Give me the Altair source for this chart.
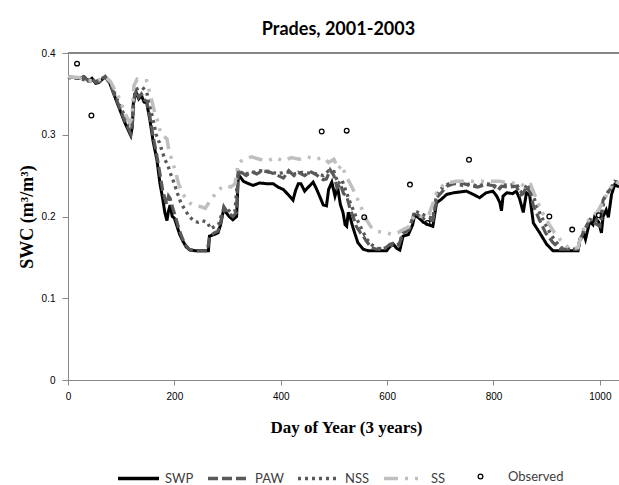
import altair as alt
import pandas as pd

# ---------------- data ----------------
swp_day = [0, 10, 20, 30, 38, 45, 52, 58, 65, 70, 78, 86, 96, 106, 113, 118, 121, 123, 128, 133,
           138, 143, 148, 154, 160, 167, 173, 178, 182, 186, 189, 192, 196, 200, 204, 210, 216, 222,
           229, 240, 255, 264, 266, 275, 282, 287, 293, 297, 303, 310, 317, 320, 323, 330, 340, 348,
           360, 375, 386, 395, 405, 415, 423, 428, 433, 438, 445, 452, 461, 467, 473, 480, 486, 490,
           496, 502, 507, 512, 517, 521, 524, 527, 530, 536, 545, 555, 565, 580, 599, 605, 612, 618,
           624, 630, 640, 648, 652, 660, 668, 677, 686, 693, 700, 712, 725, 737, 749, 762, 774, 786,
           799, 806, 812, 815, 818, 825, 836, 843, 849, 856, 862, 868, 875, 887, 900, 912, 930, 959,
           962, 970, 973, 981, 987, 990, 998, 1003, 1006, 1012, 1016, 1022, 1028, 1036]
swp_val = [0.371, 0.370, 0.369, 0.371, 0.366, 0.369, 0.363, 0.364, 0.368, 0.371, 0.364, 0.350, 0.333,
           0.316, 0.306, 0.299, 0.310, 0.340, 0.352, 0.344, 0.348, 0.340, 0.339, 0.318, 0.292, 0.270,
           0.240, 0.222, 0.205, 0.195, 0.207, 0.214, 0.200, 0.198, 0.190, 0.178, 0.170, 0.163, 0.159,
           0.158, 0.158, 0.158, 0.176, 0.178, 0.180, 0.190, 0.210, 0.205, 0.200, 0.196, 0.200, 0.246,
           0.249, 0.243, 0.240, 0.238, 0.241, 0.240, 0.240, 0.236, 0.233, 0.226, 0.220, 0.232, 0.240,
           0.240, 0.231, 0.236, 0.242, 0.234, 0.225, 0.214, 0.213, 0.233, 0.242, 0.225, 0.236, 0.215,
           0.205, 0.190, 0.188, 0.205, 0.200, 0.186, 0.168, 0.160, 0.158, 0.158, 0.158, 0.163, 0.166,
           0.161, 0.159, 0.176, 0.178, 0.190, 0.202, 0.198, 0.193, 0.190, 0.188, 0.217, 0.220, 0.227,
           0.229, 0.230, 0.231, 0.227, 0.223, 0.229, 0.231, 0.225, 0.217, 0.207, 0.225, 0.229, 0.228,
           0.231, 0.222, 0.205, 0.229, 0.226, 0.192, 0.180, 0.166, 0.158, 0.158, 0.158, 0.172, 0.178,
           0.172, 0.194, 0.190, 0.199, 0.193, 0.180, 0.200, 0.208, 0.199, 0.227, 0.239, 0.236]

paw_day = [0, 10, 20, 30, 38, 45, 52, 60, 70, 78, 86, 96, 106, 113, 118, 121, 123, 128, 133, 138,
           143, 148, 154, 160, 167, 173, 178, 182, 186, 189, 192, 197, 202, 208, 214, 220, 228, 240,
           262, 266, 275, 282, 287, 293, 300, 310, 317, 320, 326, 335, 345, 355, 365, 380, 395, 405,
           415, 425, 433, 445, 455, 465, 473, 480, 486, 493, 500, 506, 512, 518, 524, 530, 536, 542,
           550, 556, 561, 570, 580, 598, 605, 614, 622, 630, 640, 652, 662, 672, 686, 693, 703, 712,
           725, 740, 755, 770, 785, 799, 808, 815, 828, 843, 851, 856, 862, 870, 875, 887, 898, 912,
           925, 959, 965, 972, 981, 990, 1000, 1006, 1015, 1022, 1028, 1036]
paw_val = [0.371, 0.370, 0.369, 0.371, 0.366, 0.369, 0.364, 0.365, 0.371, 0.364, 0.351, 0.335, 0.318,
           0.308, 0.301, 0.312, 0.342, 0.354, 0.346, 0.350, 0.343, 0.341, 0.322, 0.298, 0.275, 0.252,
           0.232, 0.222, 0.215, 0.225, 0.222, 0.210, 0.200, 0.186, 0.175, 0.166, 0.160, 0.158, 0.158,
           0.175, 0.180, 0.182, 0.193, 0.212, 0.205, 0.200, 0.205, 0.258, 0.254, 0.250, 0.255, 0.252,
           0.256, 0.254, 0.250, 0.247, 0.256, 0.250, 0.254, 0.250, 0.255, 0.252, 0.248, 0.245, 0.246,
           0.257, 0.250, 0.235, 0.240, 0.228, 0.225, 0.210, 0.200, 0.188, 0.180, 0.175, 0.170, 0.162,
           0.160, 0.162, 0.166, 0.168, 0.165, 0.180, 0.183, 0.205, 0.200, 0.196, 0.195, 0.223, 0.230,
           0.237, 0.240, 0.241, 0.238, 0.236, 0.239, 0.238, 0.232, 0.237, 0.236, 0.237, 0.226, 0.228,
           0.237, 0.228, 0.213, 0.195, 0.180, 0.168, 0.160, 0.160, 0.175, 0.185, 0.196, 0.192, 0.188,
           0.220, 0.230, 0.235, 0.243, 0.241]

nss_day = [0, 20, 38, 52, 70, 80, 96, 110, 118, 122, 126, 133, 140, 148, 154, 160, 166, 172, 177,
           182, 188, 194, 200, 206, 212, 220, 228, 236, 244, 252, 262, 268, 276, 283, 290, 298, 306,
           314, 320, 330, 345, 360, 380, 395, 410, 425, 440, 455, 470, 480, 490, 500, 508, 515, 522,
           530, 538, 546, 554, 562, 572, 585, 600, 612, 622, 630, 642, 652, 662, 675, 686, 693, 705,
           716, 728, 742, 756, 770, 785, 800, 810, 818, 830, 843, 852, 858, 864, 872, 880, 890, 902,
           914, 926, 940, 959, 966, 975, 984, 995, 1003, 1008, 1018, 1028, 1036]
nss_val = [0.370, 0.369, 0.366, 0.365, 0.371, 0.362, 0.338, 0.318, 0.310, 0.325, 0.355, 0.357, 0.358,
           0.352, 0.335, 0.318, 0.300, 0.290, 0.280, 0.270, 0.262, 0.250, 0.240, 0.228, 0.217, 0.208,
           0.200, 0.195, 0.193, 0.195, 0.193, 0.185, 0.188, 0.190, 0.205, 0.210, 0.205, 0.207, 0.255,
           0.252, 0.253, 0.256, 0.255, 0.252, 0.255, 0.252, 0.254, 0.253, 0.252, 0.250, 0.256, 0.255,
           0.240, 0.245, 0.232, 0.218, 0.205, 0.193, 0.182, 0.172, 0.165, 0.160, 0.162, 0.166, 0.166,
           0.180, 0.185, 0.207, 0.204, 0.200, 0.198, 0.227, 0.236, 0.240, 0.241, 0.238, 0.240, 0.237,
           0.240, 0.239, 0.233, 0.239, 0.238, 0.240, 0.230, 0.233, 0.240, 0.232, 0.215, 0.200, 0.185,
           0.172, 0.162, 0.160, 0.160, 0.178, 0.188, 0.198, 0.195, 0.195, 0.222, 0.232, 0.243, 0.242]

ss_day = [0, 20, 38, 52, 70, 80, 96, 108, 116, 120, 124, 130, 140, 148, 155, 162, 168, 174, 180,
          186, 190, 196, 202, 208, 214, 222, 230, 240, 250, 258, 266, 274, 282, 290, 298, 306, 314,
          320, 330, 345, 360, 375, 390, 405, 420, 435, 450, 465, 480, 490, 500, 508, 515, 522, 530,
          540, 550, 561, 570, 580, 599, 610, 620, 630, 640, 652, 665, 678, 693, 705, 712, 730, 750,
          770, 790, 812, 830, 850, 860, 870, 876, 890, 905, 915, 925, 935, 946, 959, 966, 975, 984,
          995, 1006, 1018, 1028, 1036]
ss_val = [0.371, 0.370, 0.367, 0.365, 0.371, 0.365, 0.345, 0.325, 0.315, 0.320, 0.360, 0.368, 0.366,
          0.366, 0.348, 0.330, 0.318, 0.302, 0.298, 0.295, 0.280, 0.268, 0.255, 0.240, 0.230, 0.221,
          0.216, 0.213, 0.212, 0.210, 0.218, 0.225, 0.232, 0.236, 0.238, 0.236, 0.240, 0.265, 0.270,
          0.273, 0.270, 0.268, 0.272, 0.268, 0.272, 0.270, 0.273, 0.270, 0.272, 0.266, 0.270, 0.258,
          0.263, 0.250, 0.241, 0.228, 0.213, 0.196, 0.187, 0.182, 0.180, 0.178, 0.180, 0.184, 0.187,
          0.202, 0.200, 0.201, 0.229, 0.238, 0.241, 0.243, 0.243, 0.243, 0.243, 0.243, 0.241, 0.241,
          0.236, 0.239, 0.229, 0.207, 0.190, 0.180, 0.172, 0.165, 0.160, 0.162, 0.180, 0.192, 0.200,
          0.205, 0.218, 0.233, 0.243, 0.241]

obs_day = [17, 44, 477, 524, 557, 643, 676, 754, 905, 948, 998]
obs_val = [0.387, 0.3235, 0.304, 0.305, 0.199, 0.239, 0.192, 0.2695, 0.200, 0.184, 0.2015]

series_names = ["SWP", "PAW", "NSS", "SS"]
series_colors = ["#000000", "#595959", "#595959", "#bfbfbf"]
series_dash = [[1, 0], [10, 4], [3, 4], [14, 7, 3, 7, 3, 7]]
series_width = [3, 3.5, 3, 3.5]

x_ticks = [0, 200, 400, 600, 800, 1000]
y_ticks = [0, 0.1, 0.2, 0.3, 0.4]

# ---------------- tables ----------------
rows = []
for name, days, vals in zip(series_names, [swp_day, paw_day, nss_day, ss_day],
                            [swp_val, paw_val, nss_val, ss_val]):
    for d, v in zip(days, vals):
        rows.append({"day": d, "swc": v, "series": name})
lines_df = pd.DataFrame(rows)
obs_df = pd.DataFrame({"day": obs_day, "swc": obs_val, "kind": ["Observed"] * len(obs_day)})

AX = "#868686"

x_scale = alt.Scale(domain=[0, 1036], nice=False, zero=False)
y_scale = alt.Scale(domain=[0, 0.4], nice=False)

x_axis = alt.Axis(values=x_ticks, format="d", grid=False, title="Day of Year (3 years)",
                  titleFont="Liberation Serif", titleFontSize=17, titleFontWeight="bold",
                  titleX=278, titleY=52, titleBaseline="alphabetic", titleAlign="center",
                  tickSize=5, labelPadding=6, labelFlush=False)
y_axis = alt.Axis(values=y_ticks, grid=False, title="SWC (m³/m³)",
                  labelExpr="datum.value == 0 ? '0' : format(datum.value, '.1f')",
                  titleFont="Liberation Serif", titleFontSize=18, titleFontWeight="bold",
                  titleX=-36, titleY=163.5, titleAngle=270, titleBaseline="alphabetic",
                  titleAlign="center", tickSize=6, labelPadding=7)

line_legend = alt.Legend(title=None, orient="none", legendX=48, legendY=403, direction="horizontal",
                         symbolType="stroke", symbolSize=1681, symbolStrokeWidth=3.5,
                         labelOffset=4, columnPadding=7, padding=0, gridAlign="none",
                         labelFont="Lato", labelFontSize=13, labelColor="#404040",
                         labelBaseline="middle")

lines = alt.Chart(lines_df).mark_line(strokeCap="butt", interpolate="linear").encode(
    x=alt.X("day:Q", scale=x_scale, axis=x_axis),
    y=alt.Y("swc:Q", scale=y_scale, axis=y_axis),
    color=alt.Color("series:N", scale=alt.Scale(domain=series_names, range=series_colors),
                    legend=line_legend),
    strokeDash=alt.StrokeDash("series:N", scale=alt.Scale(domain=series_names, range=series_dash),
                              legend=line_legend),
    strokeWidth=alt.StrokeWidth("series:N", scale=alt.Scale(domain=series_names, range=series_width),
                                legend=None),
    order=alt.Order("day:Q"),
)

points = alt.Chart(obs_df).mark_point(filled=False, size=22, strokeWidth=1.3, color="black",
                                      opacity=1).encode(
    x=alt.X("day:Q", scale=x_scale),
    y=alt.Y("swc:Q", scale=y_scale),
    shape=alt.Shape("kind:N", scale=alt.Scale(domain=["Observed"], range=["circle"]),
                    legend=alt.Legend(title=None, orient="none", legendX=406, legendY=417,
                                      symbolSize=22, symbolStrokeWidth=1.3, symbolStrokeColor="black",
                                      symbolFillColor="white", labelOffset=21, padding=0,
                                      labelFont="Lato", labelFontSize=13, labelColor="#404040",
                                      labelBaseline="middle")),
)

top_rule = alt.Chart(obs_df).mark_rule(color=AX, strokeWidth=2).encode(y=alt.datum(0.4))

chart = alt.layer(top_rule, lines, points).properties(
    width=551, height=327,
    title=alt.TitleParams("Prades, 2001-2003", font="Lato", fontSize=18, fontWeight="bold",
                          anchor="middle", frame="group", baseline="alphabetic", offset=18, dx=-5,
                          dy=23, color="#000000"),
    autosize=alt.AutoSizeParams(type="none"),
    padding={"left": 68, "top": 53, "right": 0, "bottom": 105},
).resolve_scale(color="independent", strokeDash="independent", shape="independent").configure_view(
    stroke=None
).configure_axis(
    domainColor=AX, domainWidth=2, tickColor=AX, tickWidth=1.5,
    labelFont="Lato", labelFontSize=14, labelColor="#404040", titleColor="#000000",
).configure(background="white")

chart.save("out.html", embed_options={"renderer": "svg", "actions": False})
